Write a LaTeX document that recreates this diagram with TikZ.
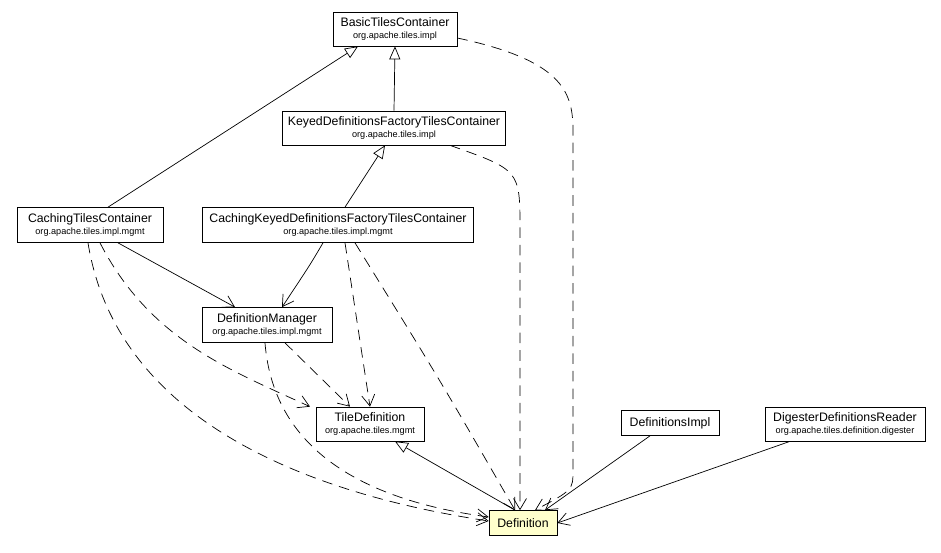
\documentclass[tikz,border=0pt]{standalone}
\usepackage{fontspec}
\setmainfont{Liberation Sans}
\usetikzlibrary{arrows.meta,positioning,calc}
\definecolor{notefill}{RGB}{255,255,204}

\tikzset{
  cls/.style={rectangle,draw,fill=white,align=center,inner sep=2pt,font=\fontsize{7}{8}\selectfont},
  dep/.style={-{Straight Barb[length=2.2mm,width=2.6mm]},dash pattern=on 6pt off 4pt},
  uses/.style={-{Straight Barb[length=2.2mm,width=2.6mm]}},
  inh/.style={-{Triangle[open,length=2.6mm,width=2.2mm]}}
}
\newcommand{\pkg}[1]{\\[-1pt]{\fontsize{5.2}{6}\selectfont #1}}

\begin{document}
\begin{tikzpicture}[x=0.02cm,y=-0.02cm]
  \useasboundingbox (0,0) rectangle (941,552);

  \node[cls,minimum width=2.48cm,minimum height=0.68cm] (btc) at (395,29) {BasicTilesContainer\pkg{org.apache.tiles.impl}};
  \node[cls,minimum width=4.46cm,minimum height=0.68cm] (kdftc) at (394,128) {KeyedDefinitionsFactoryTilesContainer\pkg{org.apache.tiles.impl}};
  \node[cls,minimum width=2.92cm,minimum height=0.7cm] (ctc) at (90,225) {CachingTilesContainer\pkg{org.apache.tiles.impl.mgmt}};
  \node[cls,minimum width=5.42cm,minimum height=0.7cm] (ckdftc) at (338,225) {CachingKeyedDefinitionsFactoryTilesContainer\pkg{org.apache.tiles.impl.mgmt}};
  \node[cls,minimum width=2.6cm,minimum height=0.7cm] (dm) at (267,325) {DefinitionManager\pkg{org.apache.tiles.impl.mgmt}};
  \node[cls,minimum width=2.16cm,minimum height=0.68cm] (td) at (370,424) {TileDefinition\pkg{org.apache.tiles.mgmt}};
  \node[cls,minimum width=1.96cm,minimum height=0.5cm] (dimpl) at (670,423) {DefinitionsImpl};
  \node[cls,minimum width=3.2cm,minimum height=0.68cm] (ddr) at (845,424) {DigesterDefinitionsReader\pkg{org.apache.tiles.definition.digester}};
  \node[cls,fill=notefill,minimum width=1.36cm,minimum height=0.5cm] (def) at (523,523) {Definition};

  % inheritance
  \draw[inh] ($(ctc.north)+(18,0)$) -- ($(btc.south)+(-37,0)$);
  \draw[inh] (kdftc.north) -- (btc.south);
  \draw[inh] ($(ckdftc.north)+(7,0)$) -- ($(kdftc.south)+(-9,0)$);
  \draw[inh] ($(def.north)+(-8,0)$) -- ($(td.south)+(25,0)$);

  % associations
  \draw[uses] ($(ctc.south)+(28,0)$) -- ($(dm.north)+(-32,0)$);
  \draw[uses] ($(ckdftc.south)+(-15,0)$) .. controls (310,265) .. ($(dm.north)+(15,0)$);
  \draw[uses] ($(dimpl.south)+(-20,0)$) -- ($(def.north)+(22,0)$);
  \draw[uses] ($(ddr.south)+(-55,0)$) -- (def.east);

  % dependencies
  \draw[dep] ($(btc.east)+(0,9)$) .. controls (560,60) and (573,90) .. (573,130) -- (573,470) .. controls (573,490) .. ($(def.north)+(12,0)$);
  \draw[dep] ($(kdftc.south)+(56,0)$) .. controls (520,170) .. (520,230) -- ($(def.north)+(-3,0)$);
  \draw[dep] ($(ctc.south)+(10,0)$) .. controls (150,340) and (230,370) .. ($(td.north)+(-60,0)$);
  \draw[dep] ($(ctc.south)+(-2,0)$) .. controls (120,440) and (350,500) .. ($(def.west)+(0,-2)$);
  \draw[dep] ($(ckdftc.south)+(7,0)$) -- (td.north);
  \draw[dep] ($(ckdftc.south)+(17,0)$) .. controls (440,380) .. ($(def.north)+(-8,0)$);
  \draw[dep] ($(dm.south)+(18,0)$) -- ($(td.north)+(-20,0)$);
  \draw[dep] ($(dm.south)+(-2,0)$) .. controls (275,470) and (400,505) .. ($(def.west)+(0,-6)$);
\end{tikzpicture}
\end{document}
